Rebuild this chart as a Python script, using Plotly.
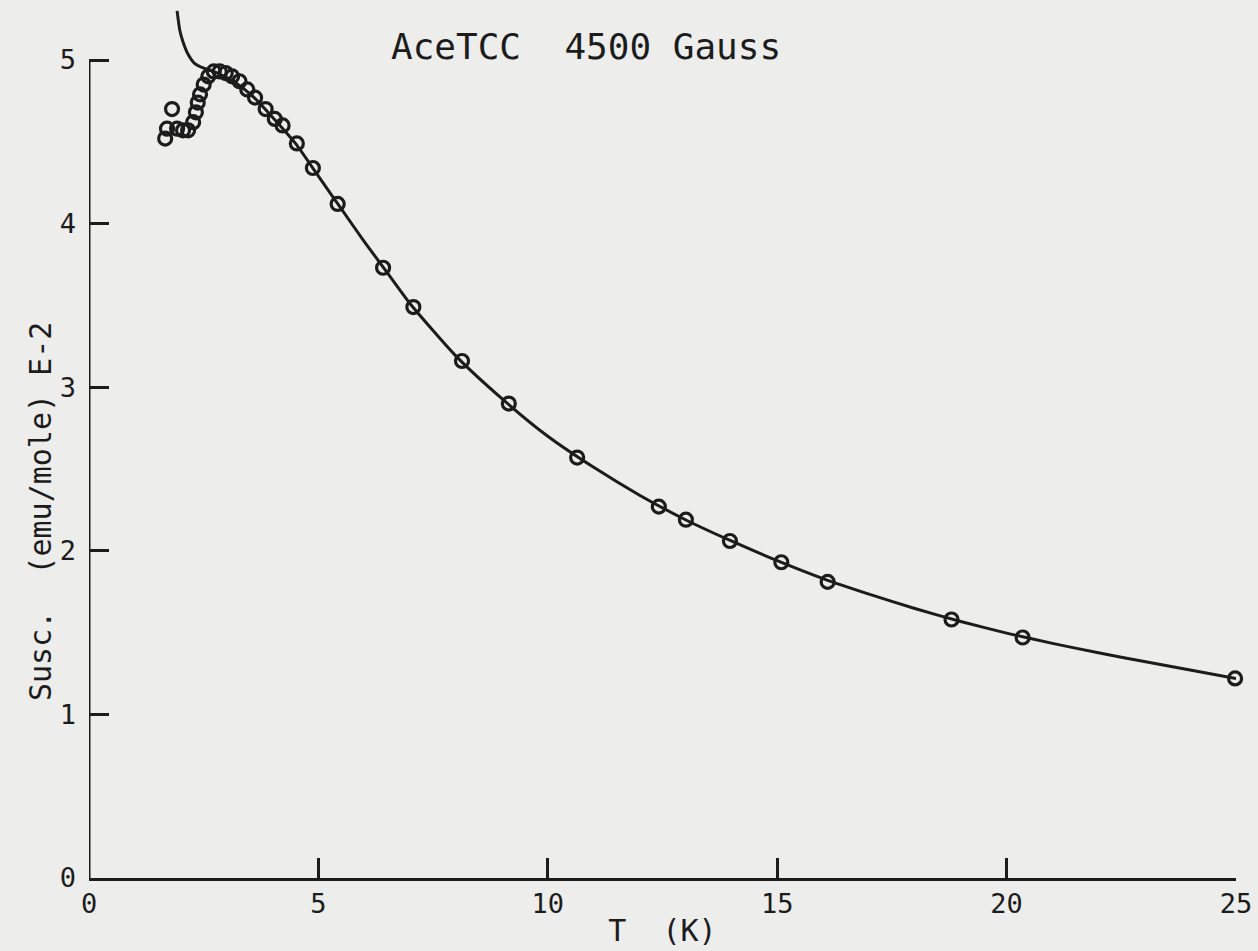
import plotly.graph_objects as go

# Measured susceptibility, AceTCC at 4500 G
temp_k = [1.66, 1.70, 1.81, 1.92, 2.05, 2.16, 2.27, 2.33, 2.37, 2.42, 2.50, 2.60,
          2.72, 2.85, 2.98, 3.12, 3.28, 3.45, 3.62, 3.85, 4.05, 4.22, 4.53, 4.88,
          5.42, 6.41, 7.07, 8.13, 9.15, 10.64, 12.42, 13.01, 13.97, 15.09, 16.10,
          18.80, 20.35, 24.98]
susc = [4.52, 4.58, 4.70, 4.58, 4.57, 4.57, 4.62, 4.68, 4.74, 4.79, 4.85, 4.90,
        4.93, 4.93, 4.92, 4.90, 4.87, 4.82, 4.77, 4.70, 4.64, 4.60, 4.49, 4.34,
        4.12, 3.73, 3.49, 3.16, 2.90, 2.57, 2.27, 2.19, 2.06, 1.93, 1.81,
        1.58, 1.47, 1.22]

# Fitted model curve
fit_t = [1.92, 1.98, 2.05, 2.15, 2.30, 2.50, 2.80, 3.20, 3.60, 4.00, 4.50, 5.00,
         5.50, 6.00, 6.50, 7.00, 8.00, 9.00, 10.0, 11.0, 12.0, 13.0, 14.0, 15.0,
         16.0, 17.0, 18.0, 19.0, 20.0, 21.0, 22.0, 23.0, 24.0, 25.0]
fit_chi = [5.30, 5.18, 5.11, 5.04, 4.98, 4.95, 4.92, 4.86, 4.77, 4.65, 4.49, 4.29,
           4.09, 3.89, 3.70, 3.51, 3.19, 2.93, 2.70, 2.51, 2.34, 2.19, 2.06, 1.94,
           1.83, 1.735, 1.647, 1.568, 1.497, 1.434, 1.377, 1.323, 1.271, 1.22]

x_ticks = [0, 5, 10, 15, 20, 25]
y_ticks = [0, 1, 2, 3, 4, 5]

INK = "#1c1c1c"
PAPER = "#ededec"
FONT = "DejaVu Sans Mono"

fig = go.Figure()

fig.add_trace(go.Scatter(
    x=fit_t, y=fit_chi, mode="lines",
    line=dict(color=INK, width=3, shape="spline", smoothing=0.6),
    hoverinfo="skip", showlegend=False,
))

fig.add_trace(go.Scatter(
    x=temp_k, y=susc, mode="markers",
    marker=dict(symbol="circle-open", size=13, color=INK, line=dict(width=3.2, color=INK)),
    cliponaxis=False, showlegend=False,
))

# left spine only up to the top tick
fig.add_shape(type="line", xref="x", yref="y", x0=0, x1=0, y0=0, y1=y_ticks[-1],
              line=dict(color=INK, width=3))

fig.add_annotation(
    text="AceTCC  4500 Gauss", xref="paper", yref="paper",
    x=(586 - 89) / (1236 - 89), y=(878 - 46) / (878 - 10),
    showarrow=False, font=dict(family=FONT, size=36, color=INK),
    xanchor="center", yanchor="middle",
)

# rotated axis title, centred on the labelled span
fig.add_annotation(
    text="Susc.  (emu/mole) E-2", xref="paper", yref="paper",
    x=-(89 - 40) / (1236 - 89), y=(878 - 512) / (878 - 10),
    showarrow=False, textangle=-90, font=dict(family=FONT, size=30, color=INK),
    xanchor="center", yanchor="middle",
)

fig.update_layout(
    width=1258, height=951,
    margin=dict(l=89, r=22, t=10, b=73),
    paper_bgcolor=PAPER, plot_bgcolor=PAPER,
    xaxis=dict(
        range=[0, 25], tickvals=x_ticks, ticktext=[str(v) for v in x_ticks],
        automargin=False, ticklabeloverflow="allow",
        showgrid=False, zeroline=False, showline=True, linecolor=INK, linewidth=3,
        ticks="inside", ticklen=20, tickwidth=3, tickcolor=INK,
        tickfont=dict(family=FONT, size=27, color=INK),
        title=dict(text="T  (K)", font=dict(family=FONT, size=30, color=INK), standoff=2),
    ),
    yaxis=dict(
        range=[0, (878 - 10) / 163.6], tickvals=y_ticks, ticktext=[str(v) for v in y_ticks],
        automargin=False,
        showgrid=False, zeroline=False, showline=False,
        ticks="inside", ticklen=20, tickwidth=3, tickcolor=INK,
        ticklabelstandoff=12,
        tickfont=dict(family=FONT, size=27, color=INK),
    ),
)

fig.write_html("out.html")
